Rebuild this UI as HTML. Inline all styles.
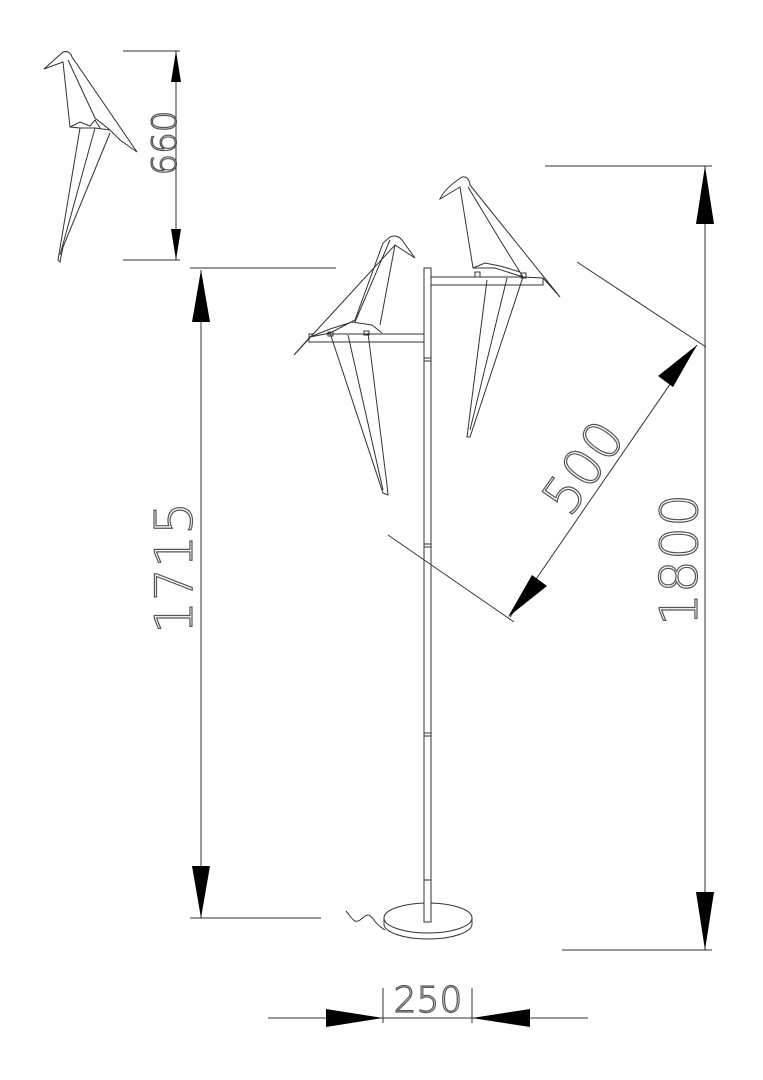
<!DOCTYPE html>
<html><head><meta charset="utf-8"><style>html,body{margin:0;padding:0;background:#fff}svg{display:block}</style></head>
<body>
<svg width="763" height="1080" viewBox="0 0 763 1080" xmlns="http://www.w3.org/2000/svg">
<g stroke="#333" stroke-width="1" fill="none">
<!-- pole -->
<rect x="424" y="268" width="7" height="654" fill="#fff"/>
<line x1="424" y1="358" x2="431" y2="358"/><line x1="424" y1="361" x2="431" y2="361"/>
<line x1="424" y1="544" x2="431" y2="544"/><line x1="424" y1="547" x2="431" y2="547"/>
<line x1="424" y1="733" x2="431" y2="733"/><line x1="424" y1="736" x2="431" y2="736"/>
<!-- arms -->
<rect x="309" y="334" width="115" height="8" fill="#fff"/>
<rect x="431" y="277" width="112" height="8" fill="#fff"/>
<!-- base -->
<path d="M384,918 L384,924 A44,15 0 0 0 472,924 L472,918"/>
<ellipse cx="428" cy="918" rx="44" ry="15" fill="#fff"/>
<rect x="424" y="880" width="7" height="42" fill="#fff"/>
<path d="M346,911 C352,918 354,924 360,920 C366,915 368,912 374,920 C378,926 382,928 385,930"/>
<!-- left bird -->
<path d="M390,237 Q397,234 402,240 L415,258 L395,245 L294,355 L310,337 L330,333 L355,320 L383,243 Z" fill="#fff"/>
<path d="M390,240 L355,322 M395,245 L380,325 M310,337 L330,329 L352,322 L372,325 L382,333"/>
<path d="M330,333 L383,493 L388,495 L387,485 L368,333 M348,335 L383,490"/>
<rect x="328" y="332" width="5" height="4"/><rect x="364" y="331" width="5" height="4"/>
<!-- right bird -->
<path d="M462,177 Q469,176 470,185 L560,297 L543,278 L523,277 L495,268 L473,268 L460,187 L440,199 Q445,188 462,177 Z" fill="#fff"/>
<path d="M468,187 L500,240 L523,277 M473,268 L485,263 L500,266 L520,272"/>
<path d="M487,280 L467,437 L470,437 L480,407 L523,277 M507,278 L470,430"/>
<rect x="475" y="272" width="5" height="5"/><rect x="521" y="273" width="5" height="5"/>
<!-- small bird -->
<path d="M63,52 Q70,50 72,57 L137,152 L120,140 L110,130 L95,128 L80,128 L70,127 L63,62 L44,69 Z" fill="#fff"/>
<path d="M68,60 L95,118 L110,130 M70,127 L80,122 L90,126 L95,120 L100,128"/>
<path d="M80,128 L58,260 L60,262 L63,247 L110,133 M95,128 L60,255"/>
</g>
<!-- dimension lines -->
<g stroke="#333" stroke-width="1">
<line x1="123" y1="51" x2="180" y2="51"/><line x1="123" y1="260" x2="180" y2="260"/><line x1="176" y1="51" x2="176" y2="260"/>
<line x1="190" y1="268" x2="336" y2="268"/><line x1="190" y1="918" x2="321" y2="918"/><line x1="201" y1="270" x2="201" y2="918"/>
<line x1="545" y1="166" x2="712" y2="166"/><line x1="562" y1="950" x2="712" y2="950"/><line x1="705" y1="166" x2="705" y2="950"/>
<line x1="268" y1="1018" x2="588" y2="1018"/><line x1="383" y1="988" x2="383" y2="1023"/><line x1="472" y1="988" x2="472" y2="1023"/>
<line x1="510" y1="617" x2="697" y2="345"/><line x1="388" y1="535" x2="514" y2="622"/><line x1="577" y1="262" x2="706" y2="347"/>
</g>
<g fill="#000">
<polygon points="176,51 171,82 181,82"/><polygon points="176,260 171,229 181,229"/>
<polygon points="201,270 192,322 210,322"/><polygon points="201,918 192,866 210,866"/>
<polygon points="705,166 696,224 714,224"/><polygon points="705,950 696,892 714,892"/>
<polygon points="383,1018 326,1009 326,1027"/><polygon points="472,1018 530,1009 530,1027"/>
<polygon points="697,345 658,376 673,387"/><polygon points="508,617 547,586 532,575"/>
</g>
<g font-family="'DejaVu Sans','Liberation Sans',sans-serif" font-weight="300" fill="#fff" stroke="#555" stroke-width="1.2">
<text x="0" y="0" font-size="34" text-anchor="middle" transform="translate(176,143) rotate(-90)">660</text>
<text x="0" y="0" font-size="52" text-anchor="middle" transform="translate(192,568) rotate(-90)">1715</text>
<text x="0" y="0" font-size="52" text-anchor="middle" transform="translate(697,560) rotate(-90)">1800</text>
<text x="0" y="0" font-size="52" text-anchor="middle" transform="translate(598,478) rotate(-55)">500</text>
<text x="428" y="1012" font-size="36" text-anchor="middle">250</text>
</g>
</svg>
</body></html>
